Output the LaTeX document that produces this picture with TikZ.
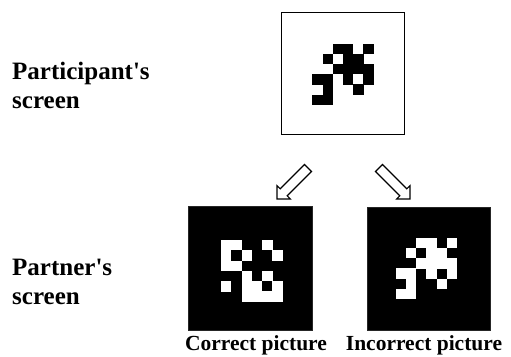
\documentclass[tikz,border=0pt]{standalone}
\usepackage{fontspec}
\setmainfont{Liberation Serif}

% Draw a pattern of square cells; #1,#2 = top-left corner, #3 = cell size, #4 = list of col/row
\newcommand\pixelgrid[4]{%
  \foreach \cc/\rr in {#4}
    \fill (#1+\cc*#3, #2+\rr*#3) rectangle ++(#3+0.2, #3+0.2);}

\tikzset{
  screenbox/.style={draw, line width=1.2pt, inner sep=0pt,
    minimum width=#1, minimum height=#1},
  sidelabel/.style={font=\bfseries\fontsize{25}{29}\selectfont, align=left,
    inner sep=0pt, anchor=north west},
  caption/.style={font=\bfseries\fontsize{21.5}{25}\selectfont,
    inner sep=0pt, anchor=base},
  blockarrow/.style={draw=black, fill=white, line width=1.1pt, line join=miter}
}

\begin{document}
\begin{tikzpicture}[x=1pt, y=-1pt]
  \useasboundingbox (0,0) rectangle (511,356);

  % Left-hand labels
  \node[sidelabel] (plabel) at (12,62) {Participant\textquotesingle s\\screen};
  \node[sidelabel] (rlabel) at (12,259) {Partner\textquotesingle s\\screen};

  % Participant's screen: black cells on white
  \node[screenbox=122.5pt, fill=white] (top) at (343,73.5) {};
  \pixelgrid{312.3}{43.5}{10.2}{2/0,3/0,5/0,1/1,3/1,4/1,2/2,3/2,4/2,5/2,0/3,1/3,3/3,5/3,1/4,4/4,0/5,1/5}

  % Partner's screens: white cells on black
  \node[screenbox=123.5pt, fill=black, draw=black!85] (correct) at (250.5,268.5) {};
  \node[screenbox=123.5pt, fill=black, draw=black!85] (incorrect) at (429,269) {};
  \begin{scope}[white]
    \pixelgrid{221}{240}{10.28}{0/0,1/0,4/0,0/1,2/1,5/1,0/2,1/2,2/3,4/3,0/4,2/4,3/4,5/4,2/5,3/5,4/5,5/5}
    \pixelgrid{395.7}{237.7}{10.2}{2/0,3/0,5/0,1/1,3/1,4/1,2/2,3/2,4/2,5/2,0/3,1/3,3/3,5/3,1/4,4/4,0/5,1/5}
  \end{scope}

  % Hollow block arrows from the participant's screen down to both options
  \draw[blockarrow] (311.5,171.5) -- (287.2,195.8) -- (290.4,199) -- (277,199)
    -- (277,185.6) -- (280.2,188.8) -- (304.5,164.5) -- cycle;
  \draw[blockarrow] (382.5,164.5) -- (406.8,188.8) -- (410,185.6) -- (410,199)
    -- (396.6,199) -- (399.8,195.8) -- (375.5,171.5) -- cycle;

  % Captions under the partner's screens
  \node[caption] (ccap) at (256,350) {Correct picture};
  \node[caption] (icap) at (424,350) {Incorrect picture};
\end{tikzpicture}
\end{document}
